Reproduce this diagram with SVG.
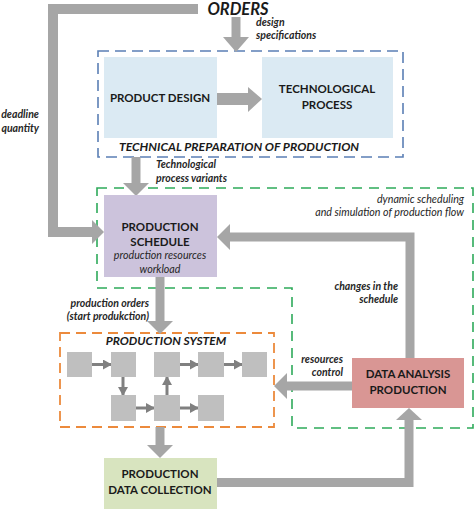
<svg xmlns="http://www.w3.org/2000/svg" width="474" height="509" viewBox="0 0 474 509">
<defs>
<style>
.t{font-family:Lato,"Noto Sans","Liberation Sans",sans-serif;fill:#1a1a1a}
.b{font-weight:bold;font-size:11.5px}
.bi{font-weight:bold;font-style:italic}
.lab{font-weight:bold;font-style:italic;font-size:10.5px;fill:#262626}
.it{font-style:italic;font-size:10.7px;fill:#262626}
.shaft{fill:none;stroke:#a6a6a6;stroke-width:9;stroke-linejoin:miter}
.head{fill:#a6a6a6}
.sm{fill:none;stroke:#808080;stroke-width:3;marker-end:url(#sh)}
.sq{fill:#bfbfbf}
</style>
<marker id="sh" markerUnits="userSpaceOnUse" markerWidth="9" markerHeight="10" refX="8" refY="5" orient="auto">
<path d="M0,0 L9,5 L0,10 Z" fill="#808080"/>
</marker>
</defs>
<rect width="474" height="509" fill="#ffffff"/>

<g id="containers">
<rect x="98" y="51" width="305" height="106" fill="none" stroke="#5b7fb5" stroke-width="1.6" stroke-dasharray="11,6"/>
<path d="M97,188 H473 V428 H292 V288 H97 Z" fill="none" stroke="#2eaa5a" stroke-width="1.6" stroke-dasharray="10,7"/>
<rect x="60" y="333" width="214" height="94" fill="none" stroke="#ec8a3c" stroke-width="1.8" stroke-dasharray="10,6"/>
</g>

<g id="connectors">
<path class="shaft" d="M198,9 H53 V232 H93" style="stroke-width:10"/>
<polygon class="head" points="92,220 104,232 92,244"/>
<path class="shaft" d="M236,17 V38"/>
<polygon class="head" points="223,37 249,37 236,52"/>
<path class="shaft" d="M217,99 H249" style="stroke-width:12"/>
<polygon class="head" points="248,87 262,99 248,112"/>
<path class="shaft" d="M136,157 V184"/>
<polygon class="head" points="123,183 149,183 136,196"/>
<path class="shaft" d="M410,358 V237 H229"/>
<polygon class="head" points="230,224 217,237 230,250"/>
<path class="shaft" d="M160,277 V322"/>
<polygon class="head" points="147,321 173,321 160,334"/>
<path class="shaft" d="M352,386 H286"/>
<polygon class="head" points="287,373 274,386 287,399"/>
<path class="shaft" d="M160,427 V446"/>
<polygon class="head" points="147,445 173,445 160,458"/>
<path class="shaft" d="M217,482.5 H409 V419"/>
<polygon class="head" points="396,420 409,408 422,420"/>
<path class="sm" d="M92,364.5 H111"/>
<path class="sm" d="M180,364.5 H198"/>
<path class="sm" d="M224,364.5 H242"/>
<path class="sm" d="M123,377 V395"/>
<path class="sm" d="M136,408 H154"/>
<path class="sm" d="M180,408 H198"/>
<path class="sm" d="M167,395 V377"/>
</g>

<g id="orders">
<text class="t bi" x="238" y="14.5" font-size="16.5" text-anchor="middle">ORDERS</text>
</g>

<g id="product-design">
<rect x="104" y="57" width="113" height="81" fill="#dbeaf3"/>
<text class="t b" x="160" y="102" text-anchor="middle">PRODUCT DESIGN</text>
</g>

<g id="technological-process">
<rect x="262" y="57" width="131" height="81" fill="#dbeaf3"/>
<text class="t b" x="327" y="93" text-anchor="middle">TECHNOLOGICAL</text>
<text class="t b" x="327" y="109" text-anchor="middle">PROCESS</text>
</g>

<g id="technical-preparation-label">
<text class="t bi" x="239" y="151" font-size="12.2" text-anchor="middle">TECHNICAL PREPARATION OF PRODUCTION</text>
</g>

<g id="production-schedule">
<rect x="104" y="195" width="113" height="82" fill="#ccc3dc"/>
<text class="t b" x="160" y="231" text-anchor="middle">PRODUCTION</text>
<text class="t b" x="160" y="246" text-anchor="middle">SCHEDULE</text>
<text class="t it" x="160" y="259" text-anchor="middle">production resources</text>
<text class="t it" x="160" y="273" text-anchor="middle">workload</text>
</g>

<g id="production-system">
<text class="t bi" x="166" y="345" font-size="12" text-anchor="middle">PRODUCTION SYSTEM</text>
<rect class="sq" x="67" y="352" width="25" height="25"/>
<rect class="sq" x="111" y="352" width="25" height="25"/>
<rect class="sq" x="154" y="352" width="26" height="25"/>
<rect class="sq" x="198" y="352" width="26" height="25"/>
<rect class="sq" x="242" y="352" width="25" height="25"/>
<rect class="sq" x="111" y="395" width="25" height="26"/>
<rect class="sq" x="154" y="395" width="26" height="26"/>
<rect class="sq" x="198" y="395" width="26" height="26"/>
</g>

<g id="data-analysis">
<rect x="352" y="358" width="112" height="50" fill="#d99694"/>
<text class="t b" x="408" y="378" text-anchor="middle">DATA ANALYSIS</text>
<text class="t b" x="408" y="394" text-anchor="middle">PRODUCTION</text>
</g>

<g id="data-collection">
<rect x="104" y="458" width="113" height="51" fill="#d8e4bf"/>
<text class="t b" x="160" y="478" text-anchor="middle">PRODUCTION</text>
<text class="t b" x="160" y="494" text-anchor="middle">DATA COLLECTION</text>
</g>

<g id="labels">
<text class="t lab" x="256" y="26">design</text>
<text class="t lab" x="256" y="39">specifications</text>
<text class="t lab" x="39" y="118" text-anchor="end">deadline</text>
<text class="t lab" x="39" y="132" text-anchor="end">quantity</text>
<text class="t lab" x="156" y="168">Technological</text>
<text class="t lab" x="156" y="182">process variants</text>
<text class="t it" x="464" y="203" text-anchor="end">dynamic scheduling</text>
<text class="t it" x="464" y="216" text-anchor="end">and simulation of production flow</text>
<text class="t lab" x="398" y="290" text-anchor="end">changes in the</text>
<text class="t lab" x="398" y="303" text-anchor="end">schedule</text>
<text class="t lab" x="149" y="307" text-anchor="end">production orders</text>
<text class="t lab" x="149" y="320" text-anchor="end">(start produkction)</text>
<text class="t lab" x="343" y="363" text-anchor="end">resources</text>
<text class="t lab" x="343" y="376" text-anchor="end">control</text>
</g>
</svg>
